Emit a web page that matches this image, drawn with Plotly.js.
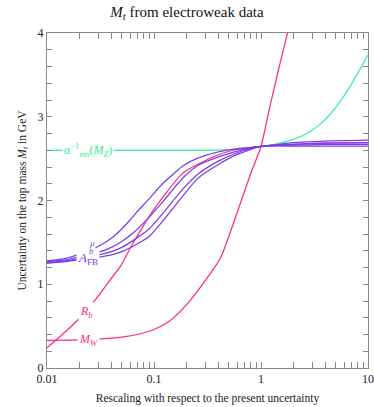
<!DOCTYPE html>
<html>
<head>
<meta charset="utf-8">
<script src="https://cdn.plot.ly/plotly-3.0.1.min.js"></script>
<style>html,body{margin:0;padding:0;background:#fff;}#chart{width:374px;height:407px;}</style>
</head>
<body>
<div id="chart"></div>
<script>
// ---- data ----
// tick positions (major ones carry a label, the others are unlabeled minor ticks)
const xTicks = [0.01, 0.02, 0.03, 0.04, 0.05, 0.06, 0.07, 0.08, 0.09,
                0.1, 0.2, 0.3, 0.4, 0.5, 0.6, 0.7, 0.8, 0.9,
                1, 2, 3, 4, 5, 6, 7, 8, 9, 10];
const xTickText = ["0.01", "", "", "", "", "", "", "", "",
                   "0.1", "", "", "", "", "", "", "", "",
                   "1", "", "", "", "", "", "", "", "", "10"];
const yTicks = [0, 0.2, 0.4, 0.6, 0.8, 1, 1.2, 1.4, 1.6, 1.8, 2, 2.2, 2.4, 2.6, 2.8,
                3, 3.2, 3.4, 3.6, 3.8, 4];
const yTickText = ["0", "", "", "", "", "1", "", "", "", "", "2", "", "", "", "",
                   "3", "", "", "", "", "4"];

const alphaX = [0.01, 0.05, 0.1, 0.3, 0.6, 1, 1.2, 1.68, 2.42, 3.48, 4.92, 7.08, 10];
const alphaY = [2.60, 2.60, 2.60, 2.60, 2.61, 2.64, 2.66, 2.70, 2.77, 2.90, 3.10, 3.40, 3.74];

const afb1X = [0.01, 0.015, 0.02, 0.03, 0.04, 0.05, 0.06, 0.07, 0.09, 0.12, 0.19, 0.25, 0.4, 0.6, 1, 2, 4, 10];
const afb1Y = [1.28, 1.31, 1.36, 1.45, 1.55, 1.66, 1.77, 1.87, 2.02, 2.20, 2.42, 2.50, 2.58, 2.62, 2.645, 2.69, 2.71, 2.72];
const afb2X = [0.01, 0.015, 0.02, 0.03, 0.04, 0.05, 0.065, 0.087, 0.12, 0.19, 0.26, 0.4, 0.6, 1, 2, 4, 10];
const afb2Y = [1.27, 1.29, 1.33, 1.38, 1.44, 1.51, 1.62, 1.78, 1.98, 2.28, 2.42, 2.52, 2.59, 2.645, 2.67, 2.685, 2.69];
const afb3X = [0.01, 0.015, 0.02, 0.03, 0.04, 0.05, 0.065, 0.09, 0.12, 0.19, 0.26, 0.4, 0.6, 1, 2, 4, 10];
const afb3Y = [1.26, 1.28, 1.31, 1.35, 1.39, 1.44, 1.53, 1.66, 1.84, 2.15, 2.32, 2.47, 2.57, 2.645, 2.66, 2.67, 2.67];
const afb4X = [0.01, 0.015, 0.02, 0.03, 0.04, 0.05, 0.065, 0.09, 0.12, 0.19, 0.26, 0.4, 0.6, 1, 2, 4, 10];
const afb4Y = [1.25, 1.27, 1.29, 1.32, 1.35, 1.39, 1.46, 1.57, 1.75, 2.07, 2.27, 2.43, 2.55, 2.645, 2.65, 2.65, 2.65];

const rbX = [0.01, 0.0154, 0.0203, 0.0281, 0.0388, 0.0483, 0.0636, 0.0863, 0.0921, 0.187, 0.39, 0.55, 1, 2, 4, 10];
const rbY = [0.24, 0.45, 0.60, 0.81, 1.05, 1.21, 1.49, 1.77, 1.83, 2.33, 2.54, 2.60, 2.645, 2.67, 2.685, 2.69];

const mwX = [0.01, 0.02, 0.03, 0.05, 0.07, 0.1, 0.14, 0.2, 0.3, 0.42, 0.55, 0.8, 1.0, 1.2, 1.45, 1.8];
const mwY = [0.33, 0.335, 0.345, 0.37, 0.40, 0.46, 0.56, 0.75, 1.04, 1.32, 1.72, 2.32, 2.645, 3.10, 3.55, 4.04];

// ---- styling ----
const GREEN = "#30ee9c";
const PURPLE = "#7a3df0";
const PINK = "#ff2a85";
const SERIF = "Liberation Serif, Times New Roman, serif";
const LW = 1.25;
const AXC = "#888888";

function line(x, y, color) {
  return {x: x, y: y, type: "scatter", mode: "lines", hoverinfo: "skip",
          line: {color: color, width: LW, shape: "spline", smoothing: 0.6}};
}

const traces = [
  line(alphaX, alphaY, GREEN),
  line(rbX, rbY, PINK),
  line(mwX, mwY, PINK),
  line(afb4X, afb4Y, PURPLE),
  line(afb3X, afb3Y, PURPLE),
  line(afb2X, afb2Y, PURPLE),
  line(afb1X, afb1Y, PURPLE)
];

const L = Math.log10;
const annotations = [
  {x: L(0.024), y: 2.6, xref: "x", yref: "y", showarrow: false, bgcolor: "#fff", borderpad: 1,
   text: "<i>α</i><sup>−1</sup><sub>em</sub>(<i>M</i><sub><i>Z</i></sub>)", font: {family: SERIF, size: 12, color: GREEN}},
  {x: L(0.0243), y: 1.31, xref: "x", yref: "y", showarrow: false, bgcolor: "#fff", borderpad: 1,
   text: "<i>A</i><sub>FB</sub>", font: {family: SERIF, size: 13, color: PURPLE}},
  {x: L(0.0262), y: 1.40, xref: "x", yref: "y", showarrow: false, bgcolor: "#fff", borderpad: 0,
   text: "<i>b</i>", font: {family: SERIF, size: 9, color: PURPLE}},
  {x: L(0.0262), y: 1.49, xref: "x", yref: "y", showarrow: false, bgcolor: "#fff", borderpad: 0,
   text: "<i>μ</i>", font: {family: SERIF, size: 9, color: PURPLE}},
  {x: L(0.0236), y: 0.67, xref: "x", yref: "y", showarrow: false, bgcolor: "#fff", borderpad: 1,
   text: "<i>R</i><sub><i>b</i></sub>", font: {family: SERIF, size: 12, color: PINK}},
  {x: L(0.0245), y: 0.33, xref: "x", yref: "y", showarrow: false, bgcolor: "#fff", borderpad: 1,
   text: "<i>M</i><sub><i>W</i></sub>", font: {family: SERIF, size: 12, color: PINK}}
];

const layout = {
  width: 374, height: 407,
  margin: {l: 47, r: 6, t: 33, b: 39},
  paper_bgcolor: "#fff", plot_bgcolor: "#fff",
  showlegend: false,
  font: {family: SERIF, size: 12, color: "#222"},
  title: {text: "<i>M</i><sub><i>t</i></sub> from electroweak data",
          font: {family: SERIF, size: 15, color: "#111"},
          x: 0.5, xref: "container", y: 0.972, yref: "container", yanchor: "middle"},
  xaxis: {
    type: "log", range: [-2, 1], autorange: false,
    tickmode: "array", tickvals: xTicks, ticktext: xTickText,
    ticks: "inside", ticklen: 6, tickcolor: AXC, tickwidth: 1,
    showline: true, linecolor: AXC, linewidth: 1, mirror: "ticks",
    showgrid: false, zeroline: false,
    tickfont: {family: SERIF, size: 12, color: "#222"},
    title: {text: "Rescaling with respect to the present uncertainty", standoff: 8,
            font: {family: SERIF, size: 11.5, color: "#222"}}
  },
  yaxis: {
    range: [0, 4], autorange: false,
    tickmode: "array", tickvals: yTicks, ticktext: yTickText,
    ticks: "inside", ticklen: 5, tickcolor: AXC, tickwidth: 1,
    showline: true, linecolor: AXC, linewidth: 1, mirror: "ticks",
    showgrid: false, zeroline: false,
    tickfont: {family: SERIF, size: 12, color: "#222"},
    title: {text: "Uncertainty on the top mass <i>M</i><sub><i>t</i></sub> in GeV", standoff: 8,
            font: {family: SERIF, size: 11.5, color: "#222"}}
  },
  annotations: annotations
};

Plotly.newPlot("chart", traces, layout, {staticPlot: true, displayModeBar: false});
</script>
</body>
</html>
